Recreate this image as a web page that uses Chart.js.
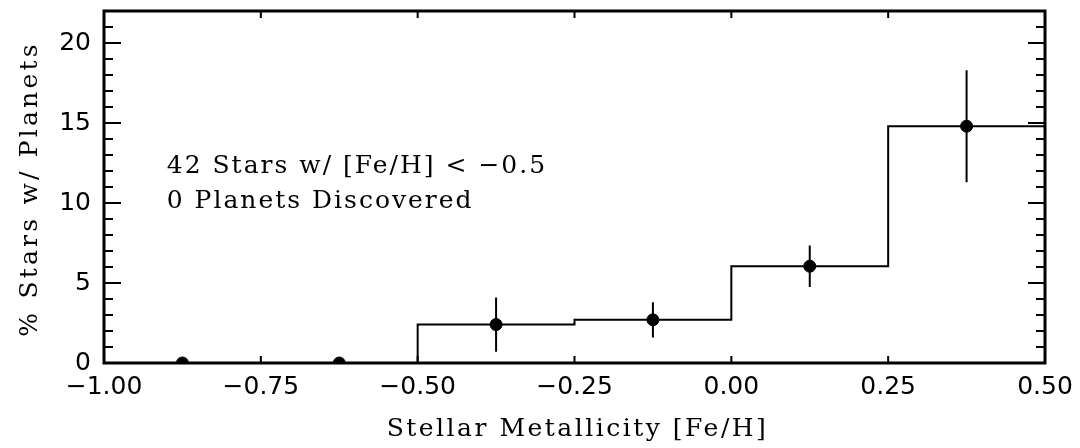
<!DOCTYPE html>
<html>
<head>
<meta charset="utf-8">
<title>Planet occurrence vs metallicity</title>
<script src="https://cdn.jsdelivr.net/npm/chart.js@4.4.1/dist/chart.umd.min.js"></script>
<style>
  html, body { margin: 0; padding: 0; background: #fff; }
  #wrap { width: 1080px; height: 448px; }
</style>
</head>
<body>
<div id="wrap"><canvas id="chart" width="1080" height="448"></canvas></div>
<script>
// Histogram bins in [Fe/H]
const binEdges = [-1.0, -0.75, -0.5, -0.25, 0.0, 0.25, 0.5];
const binCenters = [-0.875, -0.625, -0.375, -0.125, 0.125, 0.375];
// Percent of stars with planets in each bin, and 1-sigma errors
const planetRate = [0, 0, 2.4, 2.7, 6.05, 14.8];
const rateError = [0, 0, 1.7, 1.1, 1.3, 3.5];

// Axis ticks
const xTickValues = [-1.0, -0.75, -0.5, -0.25, 0.0, 0.25, 0.5];
const yTickValues = [0, 5, 10, 15, 20];
const yMinorStep = 1;

const xRange = [-1.0, 0.5];
const yRange = [0, 22];

const xTitle = 'Stellar Metallicity [Fe/H]';
const yTitle = '% Stars w/ Planets';

// Text block in data coordinates
const noteLines = ['42 Stars w/ [Fe/H] < \u22120.5', '0 Planets Discovered'];
const noteX = -0.9;
const noteY = [11.875, 9.69];

const FONT = '"DejaVu Serif", serif';
const TICK_FONT = '"DejaVu Sans", sans-serif';
const FONT_SIZE = 25;

// step outline: each edge carries the value of the bin that starts there
const stepData = binEdges.map((x, i) => ({ x: x, y: planetRate[Math.min(i, planetRate.length - 1)] }));

const pointData = binCenters.map((x, i) => ({ x: x, y: planetRate[i] }));

// vertical error bars, separated by null gaps
const errorData = [];
binCenters.forEach((x, i) => {
    if (rateError[i] > 0) {
        errorData.push({ x: x, y: planetRate[i] - rateError[i] });
        errorData.push({ x: x, y: planetRate[i] + rateError[i] });
        errorData.push({ x: x, y: null });
    }
});

function fmtX(v) {
    const s = Math.abs(v).toFixed(2);
    return v < -1e-9 ? '\u2212' + s : s;
}

// Box frame with inward tick marks on all four sides, plus axis titles and notes
const framePlugin = {
    id: 'frame',
    afterDatasetsDraw(chart) {
        const { ctx, chartArea: a, scales } = chart;
        const xs = scales.x, ys = scales.y;
        ctx.save();
        ctx.strokeStyle = '#000';
        ctx.lineCap = 'butt';

        // minor y ticks
        ctx.lineWidth = 2;
        ctx.beginPath();
        for (let v = yRange[0]; v <= yRange[1]; v += yMinorStep) {
            const py = ys.getPixelForValue(v);
            ctx.moveTo(a.left, py); ctx.lineTo(a.left + 9, py);
            ctx.moveTo(a.right, py); ctx.lineTo(a.right - 9, py);
        }
        ctx.stroke();

        // major y ticks
        ctx.beginPath();
        yTickValues.forEach(v => {
            const py = ys.getPixelForValue(v);
            ctx.moveTo(a.left, py); ctx.lineTo(a.left + 17, py);
            ctx.moveTo(a.right, py); ctx.lineTo(a.right - 17, py);
        });
        ctx.stroke();

        // x ticks
        ctx.beginPath();
        xTickValues.forEach(v => {
            const px = xs.getPixelForValue(v);
            ctx.moveTo(px, a.bottom); ctx.lineTo(px, a.bottom - 7);
            ctx.moveTo(px, a.top); ctx.lineTo(px, a.top + 7);
        });
        ctx.stroke();

        ctx.lineWidth = 3;
        ctx.strokeRect(a.left, a.top, a.right - a.left, a.bottom - a.top);

        ctx.fillStyle = '#000';
        ctx.font = FONT_SIZE + 'px ' + FONT;
        ctx.textBaseline = 'alphabetic';

        // text block inside the plot
        ctx.textAlign = 'left';
        ctx.letterSpacing = '2px';
        noteLines.forEach((t, i) => {
            ctx.fillText(t, xs.getPixelForValue(noteX), ys.getPixelForValue(noteY[i]));
        });

        // axis titles
        ctx.textAlign = 'center';
        ctx.letterSpacing = '2.5px';
        ctx.fillText(xTitle, (a.left + a.right) / 2 + 3, 436);

        ctx.letterSpacing = '3.2px';
        ctx.translate(37, (a.top + a.bottom) / 2 + 2);
        ctx.rotate(-Math.PI / 2);
        ctx.fillText(yTitle, 0, 0);
        ctx.restore();
    }
};

const ctx = document.getElementById('chart').getContext('2d');

new Chart(ctx, {
    type: 'scatter',
    data: {
        datasets: [
            {
                label: 'rate',
                type: 'line',
                data: stepData,
                stepped: 'before',
                borderColor: '#000',
                borderWidth: 2,
                pointRadius: 0,
                fill: false,
                clip: 0
            },
            {
                label: 'errors',
                type: 'line',
                data: errorData,
                borderColor: '#000',
                borderWidth: 2,
                pointRadius: 0,
                spanGaps: false,
                fill: false,
                clip: 0
            },
            {
                label: 'bins',
                data: pointData,
                backgroundColor: '#000',
                borderColor: '#000',
                pointRadius: 6,
                pointHoverRadius: 6,
                clip: 0
            }
        ]
    },
    options: {
        responsive: false,
        animation: false,
        events: [],
        layout: { padding: { top: 11, right: 35, left: 0, bottom: 0 } },
        plugins: {
            legend: { display: false },
            tooltip: { enabled: false }
        },
        scales: {
            x: {
                type: 'linear',
                min: xRange[0],
                max: xRange[1],
                afterBuildTicks: scale => { scale.ticks = xTickValues.map(v => ({ value: v })); },
                afterFit: scale => {
                    scale.height = 85;
                    scale.paddingLeft = 0;
                    scale.paddingRight = 0;
                },
                border: { display: false },
                grid: { display: false, drawTicks: false },
                ticks: {
                    padding: 9,
                    color: '#000',
                    maxRotation: 0,
                    font: { family: TICK_FONT, size: FONT_SIZE },
                    callback: v => fmtX(v)
                }
            },
            y: {
                type: 'linear',
                min: yRange[0],
                max: yRange[1],
                afterBuildTicks: scale => { scale.ticks = yTickValues.map(v => ({ value: v })); },
                afterFit: scale => {
                    scale.width = 104;
                    scale.paddingTop = 0;
                    scale.paddingBottom = 0;
                },
                border: { display: false },
                grid: { display: false, drawTicks: false },
                ticks: {
                    padding: 13,
                    color: '#000',
                    font: { family: TICK_FONT, size: FONT_SIZE },
                    callback: v => String(v)
                }
            }
        }
    },
    plugins: [framePlugin]
});
</script>
</body>
</html>
